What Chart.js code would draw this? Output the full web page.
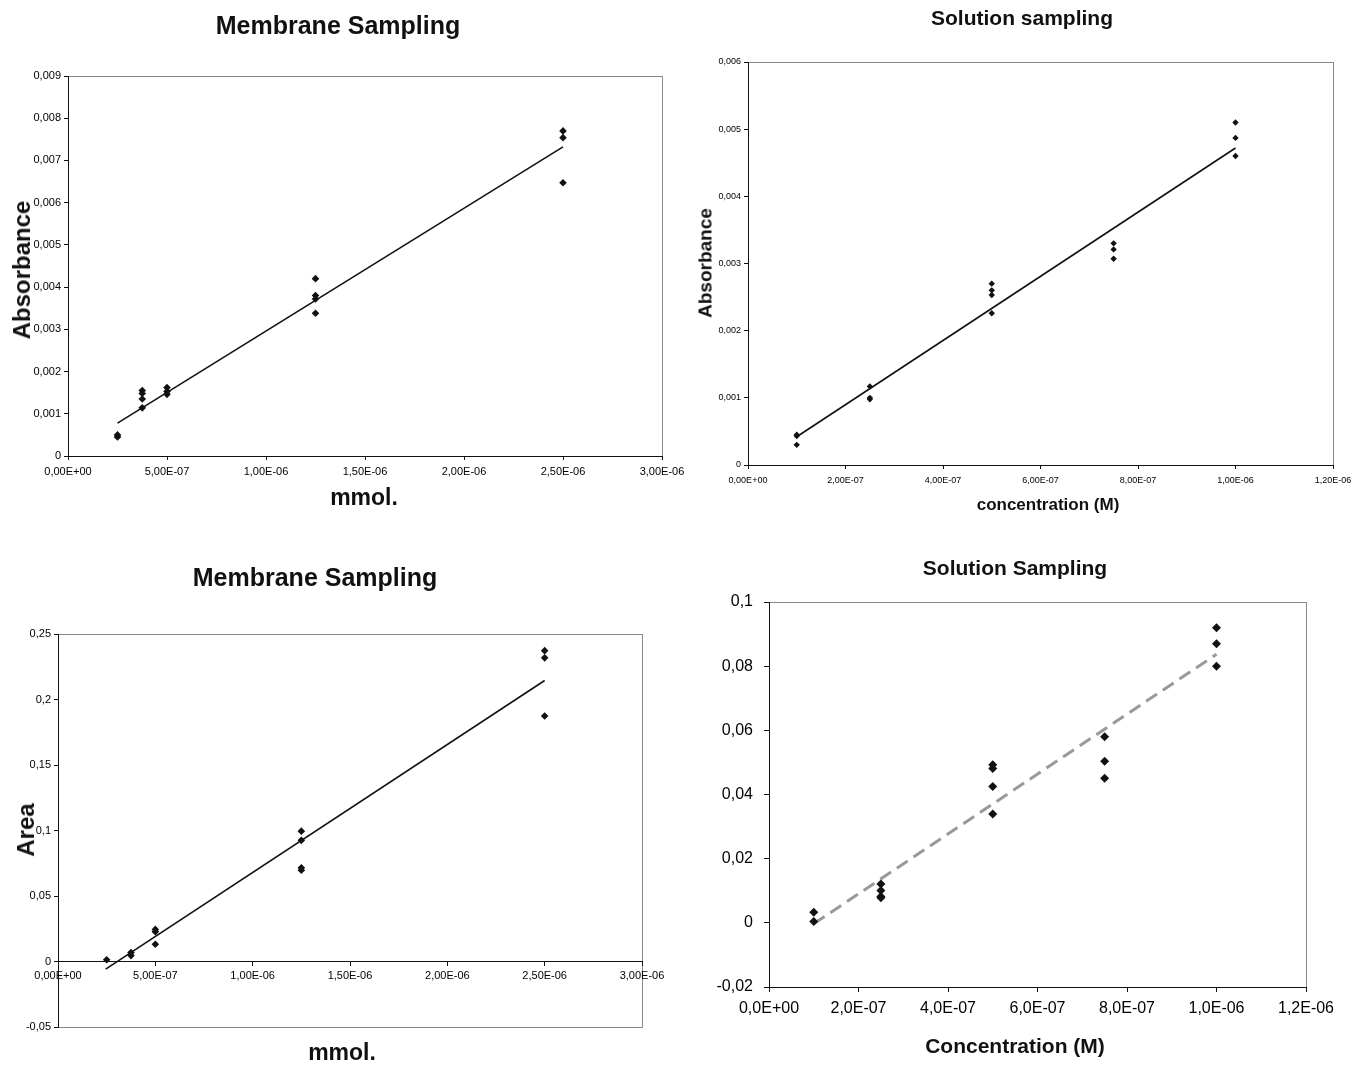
<!DOCTYPE html>
<html>
<head>
<meta charset="utf-8">
<script src="https://cdn.jsdelivr.net/npm/chart.js@4.4.1/dist/chart.umd.min.js"></script>
<style>
  body { margin: 0; background: #fff; }
  #wrap { position: relative; width: 1360px; height: 1065px; overflow: hidden; }
  canvas { position: absolute; left: 0; top: 0; }
  .lbl { position: absolute; font-family: "Liberation Sans", Arial, sans-serif; font-weight: bold; color: #111; white-space: nowrap; transform: translate(-50%, -50%); line-height: 1; }
  .rot { transform: translate(-50%, -50%) rotate(-90deg); }
</style>
</head>
<body>
<div id="wrap">
  <canvas id="c1" width="1360" height="1065"></canvas>
  <canvas id="c2" width="1360" height="1065"></canvas>
  <canvas id="c3" width="1360" height="1065"></canvas>
  <canvas id="c4" width="1360" height="1065"></canvas>

  <div class="lbl" style="left:338px;top:25px;font-size:25px">Membrane Sampling</div>
  <div class="lbl rot" style="left:22px;top:270px;font-size:24px">Absorbance</div>
  <div class="lbl" style="left:364px;top:497px;font-size:23px">mmol.</div>

  <div class="lbl" style="left:1022px;top:17px;font-size:21px">Solution sampling</div>
  <div class="lbl rot" style="left:705px;top:263px;font-size:19px">Absorbance</div>
  <div class="lbl" style="left:1048px;top:504px;font-size:17px">concentration (M)</div>

  <div class="lbl" style="left:315px;top:577px;font-size:25px">Membrane Sampling</div>
  <div class="lbl rot" style="left:26px;top:830px;font-size:24px">Area</div>
  <div class="lbl" style="left:342px;top:1052px;font-size:23px">mmol.</div>

  <div class="lbl" style="left:1015px;top:567px;font-size:21px">Solution Sampling</div>
  <div class="lbl" style="left:1015px;top:1045px;font-size:21px">Concentration (M)</div>
</div>
<script>
// Membrane sampling, absorbance vs mmol.
const memAbsX = [2.5e-7, 2.5e-7, 3.75e-7, 3.75e-7, 3.75e-7, 3.75e-7, 5e-7, 5e-7, 5e-7,
                 1.25e-6, 1.25e-6, 1.25e-6, 1.25e-6, 2.5e-6, 2.5e-6, 2.5e-6];
const memAbsY = [0.00045, 0.0005, 0.00155, 0.00148, 0.00135, 0.00114, 0.00162, 0.00153, 0.00146,
                 0.0042, 0.0038, 0.00372, 0.00338, 0.0077, 0.00754, 0.00647];
const memAbsFitX = [2.5e-7, 2.5e-6];
const memAbsFitY = [0.00078, 0.00732];

// Solution sampling, absorbance vs concentration
const solAbsX = [1e-7, 1e-7, 1e-7, 2.5e-7, 2.5e-7, 2.5e-7, 5e-7, 5e-7, 5e-7, 5e-7,
                 7.5e-7, 7.5e-7, 7.5e-7, 1e-6, 1e-6, 1e-6];
const solAbsY = [0.00045, 0.00043, 0.0003, 0.00117, 0.001, 0.00098, 0.0027, 0.0026, 0.00253, 0.00226,
                 0.0033, 0.00321, 0.00307, 0.0051, 0.00487, 0.0046];
const solAbsFitX = [1e-7, 1e-6];
const solAbsFitY = [0.00042, 0.00472];

// Membrane sampling, area vs mmol.
const memAreaX = [2.5e-7, 3.75e-7, 3.75e-7, 5e-7, 5e-7, 5e-7,
                  1.25e-6, 1.25e-6, 1.25e-6, 1.25e-6, 2.5e-6, 2.5e-6, 2.5e-6];
const memAreaY = [0.0013, 0.0068, 0.0045, 0.0245, 0.0228, 0.0132,
                  0.0995, 0.0925, 0.0715, 0.0697, 0.2373, 0.2318, 0.1874];
const memAreaFitX = [2.45e-7, 2.5e-6];
const memAreaFitY = [-0.0058, 0.2145];

// Solution sampling, area vs concentration
const solAreaX = [1e-7, 1e-7, 2.5e-7, 2.5e-7, 2.5e-7, 2.5e-7, 5e-7, 5e-7, 5e-7, 5e-7,
                  7.5e-7, 7.5e-7, 7.5e-7, 1e-6, 1e-6, 1e-6];
const solAreaY = [0.0033, 0.0004, 0.0121, 0.0101, 0.0082, 0.0078, 0.0493, 0.0481, 0.0425, 0.0339,
                  0.058, 0.0504, 0.0451, 0.092, 0.087, 0.080];
const solAreaFitX = [1e-7, 1e-6];
const solAreaFitY = [-0.0003, 0.0837];

// Axis ranges [min, max, step]
const memXRange = [0, 3e-6, 5e-7];
const solXRange = [0, 1.2e-6, 2e-7];
const memAbsYRange = [0, 0.009, 0.001];
const solAbsYRange = [0, 0.006, 0.001];
const memAreaYRange = [-0.05, 0.25, 0.05];
const solAreaYRange = [-0.02, 0.1, 0.02];

const FONT = '"Liberation Sans", Arial, sans-serif';

// Excel style "5,00E-07"
function sciLabel(digits) {
  return v => {
    const parts = Number(v).toExponential(digits).split('e');
    const n = parseInt(parts[1], 10);
    return parts[0].replace('.', ',') + 'E' + (n < 0 ? '-' : '+') + String(Math.abs(n)).padStart(2, '0');
  };
}
const decLabel = v => String(+Number(v).toFixed(4)).replace('.', ',');

const toXY = (xs, ys) => xs.map((x, i) => ({ x: x, y: ys[i] }));

// grey box round the plot area, axes are drawn black over it
const framePlugin = {
  id: 'frame',
  beforeDraw(chart) {
    const a = chart.chartArea, ctx = chart.ctx;
    ctx.save();
    ctx.strokeStyle = '#8a8a8a';
    ctx.lineWidth = 1;
    ctx.strokeRect(Math.round(a.left) + 0.5, Math.round(a.top) + 0.5, Math.round(a.width), Math.round(a.height));
    ctx.restore();
  }
};

function drawPanel(id, area, pts, fit, xr, yr, look) {
  const W = 70, H = 30;
  const floating = !!look.xAt;
  new Chart(document.getElementById(id), {
    type: 'scatter',
    data: {
      datasets: [
        { data: pts, pointStyle: 'rectRot', pointRadius: look.r, backgroundColor: '#111',
          borderColor: '#111', borderWidth: 0 },
        { data: fit, showLine: true, pointRadius: 0, borderColor: look.lineColor,
          borderWidth: look.lineWidth, borderDash: look.dash || [], fill: false }
      ]
    },
    options: {
      responsive: false,
      animation: false,
      layout: { padding: { left: area.l - W, top: area.t, right: 1360 - area.r,
                           bottom: floating ? 1065 - area.b : 1065 - area.b - H } },
      plugins: { legend: { display: false }, tooltip: { enabled: false } },
      scales: {
        x: {
          type: 'linear', axis: 'x',
          position: floating ? { y: 0 } : 'bottom',
          min: xr[0], max: xr[1],
          afterFit: s => { s.height = H; },
          ticks: { stepSize: xr[2], autoSkip: false, maxRotation: 0, color: '#000',
                   padding: look.xPad, font: { family: FONT, size: look.tick }, callback: sciLabel(look.sci) },
          grid: { drawOnChartArea: false, drawTicks: true, tickLength: look.tl, color: '#111' },
          border: { display: true, color: '#111', width: 1 }
        },
        y: {
          type: 'linear', position: 'left',
          min: yr[0], max: yr[1],
          afterFit: s => { s.width = W; },
          ticks: { stepSize: yr[2], autoSkip: false, color: '#000',
                   padding: look.yPad, font: { family: FONT, size: look.tick }, callback: decLabel },
          grid: { drawOnChartArea: false, drawTicks: true, tickLength: look.tl, color: '#111' },
          border: { display: true, color: '#111', width: 1 }
        }
      }
    },
    plugins: [framePlugin]
  });
}

const solidLine = { lineColor: '#111', lineWidth: 1.6 };

drawPanel('c1', { l: 68, r: 662, t: 76, b: 456 },
  toXY(memAbsX, memAbsY), toXY(memAbsFitX, memAbsFitY), memXRange, memAbsYRange,
  Object.assign({ r: 3.8, tick: 11, sci: 2, tl: 4, xPad: 5, yPad: 3 }, solidLine));

drawPanel('c2', { l: 748, r: 1333, t: 62, b: 465 },
  toXY(solAbsX, solAbsY), toXY(solAbsFitX, solAbsFitY), solXRange, solAbsYRange,
  Object.assign({ r: 3.2, tick: 9, sci: 2, tl: 4, xPad: 6, yPad: 3 }, solidLine));

drawPanel('c3', { l: 58, r: 642, t: 634, b: 1027 },
  toXY(memAreaX, memAreaY), toXY(memAreaFitX, memAreaFitY), memXRange, memAreaYRange,
  Object.assign({ r: 3.8, tick: 11, sci: 2, tl: 4, xPad: 4, yPad: 3, xAt: true }, solidLine));

drawPanel('c4', { l: 769, r: 1306, t: 602, b: 987 },
  toXY(solAreaX, solAreaY), toXY(solAreaFitX, solAreaFitY), solXRange, solAreaYRange,
  { r: 4.5, tick: 16, sci: 1, tl: 5, xPad: 7, yPad: 11, lineColor: '#999', lineWidth: 3, dash: [13, 7] });
</script>
</body>
</html>
